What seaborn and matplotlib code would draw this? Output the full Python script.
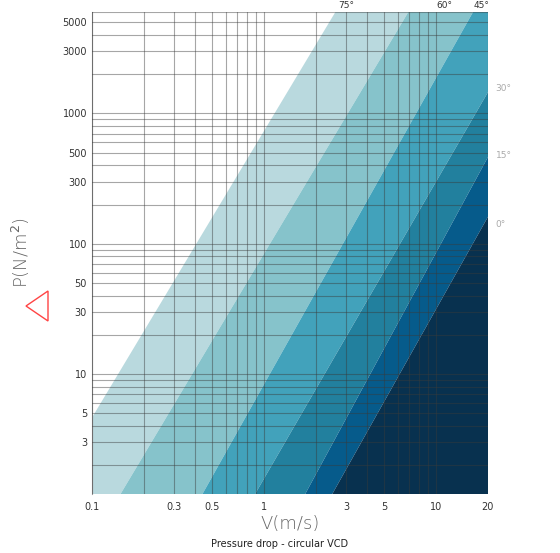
import numpy as np
import matplotlib
matplotlib.use('Agg')
import matplotlib.pyplot as plt
from matplotlib.patches import Polygon
import seaborn as sns

sns.set_style('white')
plt.rcParams['font.family'] = ['DejaVu Sans']

# boundary lines of the damper-angle bands: (V1, P1) -> (V2, P2)
boundaries = [
    ((0.1, 4.6), (2.6, 6000)),
    ((0.147, 1.2), (6.9, 6000)),
    ((0.44, 1.2), (16.4, 6000)),
    ((0.89, 1.2), (20, 1450)),
    ((1.74, 1.2), (20, 460)),
    ((2.5, 1.2), (20, 160)),
]
band_colors = ['#ffffff', '#b9d9de', '#86c3cb', '#42a2bb', '#22809e', '#065b8b', '#08314f']
top_angles = ['75°', '60°', '45°']
top_angle_v = [3.0, 11.2, 18.3]
side_angles = ['30°', '15°', '0°']
side_angle_p = [1550, 480, 140]

x_ticks = [0.1, 0.3, 0.5, 1, 3, 5, 10, 20]
y_ticks = [3, 5, 10, 30, 50, 100, 300, 500, 1000, 3000, 5000]
xlim = (0.1, 20)
ylim = (1.2, 6000)

fig = plt.figure(figsize=(5.6, 5.53), dpi=100)
ax = fig.add_axes([0.164, 0.107, 0.707, 0.871])
ax.set_xscale('log')
ax.set_yscale('log')

v = np.logspace(np.log10(xlim[0]) - 1, np.log10(xlim[1]) + 0.1, 400)

def line(b):
    (v1, p1), (v2, p2) = b
    k = np.log10(p2 / p1) / np.log10(v2 / v1)
    return p1 * (v / v1) ** k

curves = [np.full_like(v, 1e6)] + [line(b) for b in boundaries] + [np.full_like(v, 1e-3)]
for i, c in enumerate(band_colors):
    ax.fill_between(v, curves[i + 1], curves[i], color=c, lw=0, zorder=1)

ax.set_xlim(*xlim)
ax.set_ylim(*ylim)
ax.grid(True, which='both', color='#3a3a3a', alpha=0.45, lw=0.8, zorder=2)
ax.set_axisbelow(False)
ax.set_xticks(x_ticks)
ax.set_xticklabels([f'{t:g}' for t in x_ticks])
ax.set_yticks(y_ticks)
ax.set_yticklabels([f'{t:g}' for t in y_ticks])
ax.minorticks_off()
ax.grid(True, which='both', color='#3a3a3a', alpha=0.45, lw=0.8)
from matplotlib.ticker import LogLocator
ax.xaxis.set_minor_locator(LogLocator(subs=np.arange(2, 10)))
ax.yaxis.set_minor_locator(LogLocator(subs=np.arange(2, 10)))
ax.tick_params(which='both', length=0, labelsize=7, colors='#333333')
ax.tick_params(axis='x', pad=6)
for s in ['top', 'right', 'bottom']:
    ax.spines[s].set_visible(False)
ax.spines['left'].set_color('#999999')

for lab, x in zip(top_angles, top_angle_v):
    ax.text(x, 1.005, lab, transform=ax.get_xaxis_transform(), ha='center', va='bottom',
            fontsize=6.5, color='#333333')
for lab, y in zip(side_angles, side_angle_p):
    ax.text(1.02, y, lab, transform=ax.get_yaxis_transform(), ha='left', va='center',
            fontsize=6.5, color='#aaaaaa')

ax.set_xlabel('V(m/s)', fontsize=13, color='#666666', fontweight='light', labelpad=2)
ax.set_ylabel('P(N/m$^2$)', fontsize=13, color='#666666', fontweight='light', labelpad=22)
fig.text(0.5, 0.008, 'Pressure drop - circular VCD', ha='center', va='bottom', fontsize=7, color='#222222')

W, H = 560, 553
tri = Polygon([(26 / W, 1 - 306 / H), (48 / W, 1 - 291 / H), (48 / W, 1 - 321 / H)],
              closed=True, fill=False, edgecolor='#ff4444', lw=1, transform=fig.transFigure)
fig.patches.append(tri)

fig.savefig('out.png', dpi=100)
